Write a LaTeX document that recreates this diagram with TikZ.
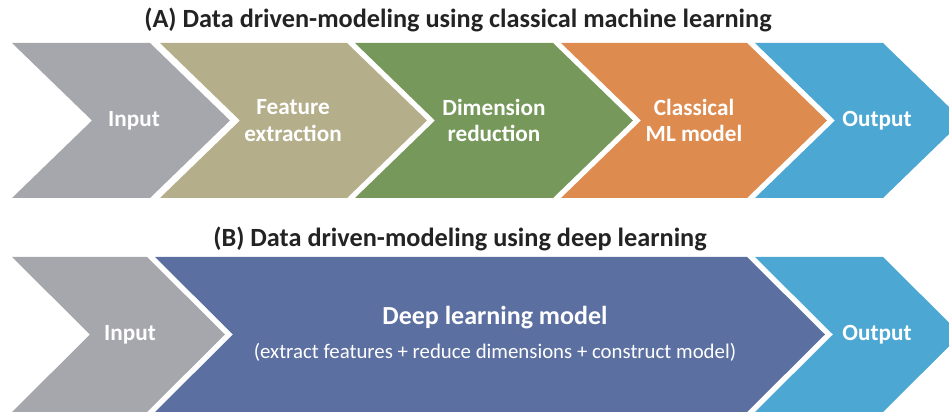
\documentclass[tikz,border=0pt]{standalone}
\usepackage{fontspec}
\setmainfont{Carlito}
\usetikzlibrary{positioning}
\definecolor{inputgray}{HTML}{A6A6AD}
\definecolor{featuretan}{HTML}{B4AE8A}
\definecolor{dimgreen}{HTML}{76985A}
\definecolor{mlorange}{HTML}{DD8B4E}
\definecolor{outblue}{HTML}{4CA8D3}
\definecolor{deepblue}{HTML}{5B6FA0}
\definecolor{titlegray}{HTML}{232323}

\begin{document}
\begin{tikzpicture}[
    x=0.025cm, y=-0.025cm,
    steplabel/.style={text=white, align=center, font=\bfseries\fontsize{16.5}{19}\selectfont},
    biglabel/.style={text=white, align=center, font=\bfseries\fontsize{18.5}{21}\selectfont},
    smalllabel/.style={text=white, align=center, font=\fontsize{14.8}{17}\selectfont},
    rowtitle/.style={text=titlegray, font=\bfseries\fontsize{18.7}{21}\selectfont}
  ]
    \useasboundingbox (0,0) rectangle (949,412);
    \clip (0,0) rectangle (949,412);

    % Row titles
    \node[rowtitle] (titleA) at (458,20) {(A) Data driven-modeling using classical machine learning};
    \node[rowtitle] (titleB) at (460,239) {(B) Data driven-modeling using deep learning};

    % Row A chevrons — tip depth 80px, half height 77.5px
    \fill[inputgray]  (12,43)  -- (150,43) -- (230,120.5) -- (150,198) -- (12,198)  -- (92,120.5)  -- cycle;
    \fill[featuretan] (160,43) -- (347,43) -- (427,120.5) -- (347,198) -- (160,198) -- (240,120.5) -- cycle;
    \fill[dimgreen]   (355,43) -- (553,43) -- (633,120.5) -- (553,198) -- (355,198) -- (435,120.5) -- cycle;
    \fill[mlorange]   (561,43) -- (747,43) -- (827,120.5) -- (747,198) -- (561,198) -- (641,120.5) -- cycle;
    \fill[outblue]    (755,43) -- (883,43) -- (963,120.5) -- (883,198) -- (755,198) -- (835,120.5) -- cycle;

    \node[steplabel] (inA)   at (134,120.5) {Input};
    \node[steplabel] (featA) at (293,120.5) {Feature\\extraction};
    \node[steplabel] (dimA)  at (494,120.5) {Dimension\\reduction};
    \node[steplabel] (mlA)   at (694,120.5) {Classical\\ML model};
    \node[steplabel] (outA)  at (877,120.5) {Output};

    % Row B chevrons
    \fill[inputgray] (12,257)  -- (147,257) -- (225,334.5) -- (147,412) -- (12,412)  -- (90,334.5)  -- cycle;
    \fill[deepblue]  (155,257) -- (747,257) -- (825,334.5) -- (747,412) -- (155,412) -- (233,334.5) -- cycle;
    \fill[outblue]   (755,257) -- (883,257) -- (961,334.5) -- (883,412) -- (755,412) -- (833,334.5) -- cycle;

    \node[steplabel] (inB)  at (130,334.5) {Input};
    \node[biglabel]  (dlB)  at (495,318) {Deep learning model};
    \node[smalllabel, below=3pt of dlB] (dlnote) {(extract features + reduce dimensions + construct model)};
    \node[steplabel] (outB) at (877,334.5) {Output};
  \end{tikzpicture}
\end{document}
